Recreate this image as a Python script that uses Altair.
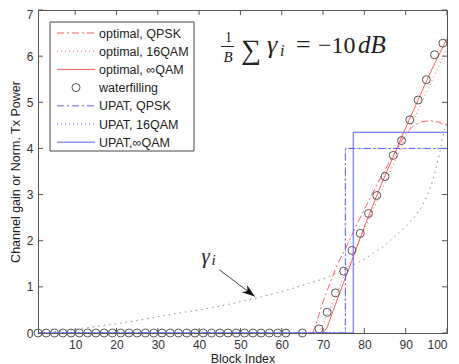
import altair as alt
import pandas as pd

# ---------------- data ----------------
x_ticks = [10, 20, 30, 40, 50, 60, 70, 80, 90, 100]
y_ticks = [0, 1, 2, 3, 4, 5, 6, 7]

wf_x = [1, 3, 5, 7, 9, 11, 13, 15, 17, 19, 21, 23, 25, 27, 29, 31, 33, 35, 37, 39,
        41, 43, 45, 47, 49, 51, 53, 55, 57, 59, 61, 65,
        69, 71, 73, 75, 77, 79, 81, 83, 85, 87, 89, 91, 93, 95, 97, 99]
wf_y = [0, 0, 0, 0, 0, 0, 0, 0, 0, 0, 0, 0, 0, 0, 0, 0, 0, 0, 0, 0,
        0, 0, 0, 0, 0, 0, 0, 0, 0, 0, 0, 0,
        0.09, 0.45, 0.87, 1.34, 1.79, 2.16, 2.59, 2.98, 3.39, 3.85, 4.17, 4.62, 5.05, 5.49, 6.03, 6.28]

gamma_x = [1, 5, 10, 15, 20, 25, 30, 35, 40, 45, 50, 55, 60, 65, 70, 75, 80, 85, 88, 90,
           92, 94, 95, 96, 97, 98, 99, 100]
gamma_y = [0.01, 0.03, 0.08, 0.14, 0.2, 0.27, 0.35, 0.43, 0.5, 0.58, 0.68, 0.78, 0.9, 1.03,
           1.17, 1.37, 1.6, 1.9, 2.15, 2.3, 2.5, 2.75, 2.95, 3.15, 3.45, 3.8, 4.25, 4.6]

opt_qpsk_x = [67.5, 68, 69, 70, 71, 72, 73, 74, 76, 78, 80, 82, 84, 86, 88, 90, 92, 94, 96, 98, 100]
opt_qpsk_y = [0, 0.12, 0.4, 0.68, 0.92, 1.15, 1.38, 1.58, 1.93, 2.32, 2.68, 3.03, 3.38, 3.7,
              4.0, 4.32, 4.5, 4.58, 4.6, 4.57, 4.5]

opt_16qam_x = [69, 70, 71, 72, 73, 74, 75, 76, 78, 80, 84, 88, 92, 96, 100]
opt_16qam_y = [0, 0.2, 0.4, 0.6, 0.8, 1.0, 1.22, 1.44, 1.85, 2.25, 3.05, 3.85, 4.63, 5.4, 6.15]

opt_inf_x = [70, 71, 72, 73, 74, 75, 76, 77, 78, 80, 82, 84, 86, 88, 90, 92, 94, 96, 98, 100]
opt_inf_y = [0, 0.12, 0.38, 0.62, 0.86, 1.1, 1.33, 1.57, 1.82, 2.3, 2.75, 3.2, 3.62, 4.03,
             4.45, 4.85, 5.25, 5.65, 6.02, 6.38]

upat_qpsk_x = [1, 75.4, 75.4, 100]
upat_qpsk_y = [0, 0, 4.0, 4.0]
upat_16qam_x = [1, 75.4, 75.4, 100]
upat_16qam_y = [0, 0, 4.0, 4.0]
upat_inf_x = [1, 77.3, 77.3, 100]
upat_inf_y = [0, 0, 4.35, 4.35]

legend_labels = ["optimal, QPSK", "optimal, 16QAM", "optimal, \u221eQAM", "waterfilling",
                 "UPAT, QPSK", "UPAT, 16QAM", "UPAT,\u221eQAM"]

# annotation (gamma_i label and arrow), data coordinates
gam_label_x, gam_label_y = 40.6, 1.52
arrow_x = [44.9, 53.5]
arrow_y = [1.37, 0.79]

# ---------------- styling ----------------
W, H = 409, 323
RED = "#ff5c5c"
BLUE = "#5c5cff"
GRAYDOT = "#8f8f8f"
CIRC = "#555555"
AXC = "#555555"
DASHDOT = [7, 3, 2, 3]
DOT = [1, 3]
SANS = "Liberation Sans"
SERIF = "Liberation Serif"

xsc = alt.Scale(domain=[1, 100], nice=False, zero=False)
ysc = alt.Scale(domain=[0, 7], nice=False)
xaxis = alt.Axis(values=x_ticks, ticks=False, tickSize=0, grid=False, domainColor=AXC,
                 labelFont=SANS, labelFontSize=12, labelColor="#333", labelPadding=6,
                 title="Block Index", titleFont=SANS, titleFontSize=12.5, titleFontWeight="normal",
                 titleColor="#222", titleY=29, titleBaseline="alphabetic")
yaxis = alt.Axis(values=y_ticks, ticks=False, tickSize=0, grid=False, domainColor=AXC,
                 labelFont=SANS, labelFontSize=12, labelColor="#333", labelPadding=5,
                 labelOffset=alt.condition("datum.value == 7", alt.value(4.5), alt.value(0)),
                 title="Channel gain or Norm. Tx Power", titleFont=SANS, titleFontSize=12.5,
                 titleFontWeight="normal", titleColor="#222", titleX=-23, titleY=H / 2,
                 titleAngle=-90, titleBaseline="middle", titleAlign="center")


def line_layer(xs, ys, color, dash=None, width=1.0):
    df = pd.DataFrame({"x": xs, "y": ys, "o": list(range(len(xs)))})
    kw = dict(color=color, strokeWidth=width, clip=True)
    if dash:
        kw["strokeDash"] = dash
    return alt.Chart(df).mark_line(**kw).encode(
        x=alt.X("x:Q", scale=xsc, axis=xaxis),
        y=alt.Y("y:Q", scale=ysc, axis=yaxis),
        order="o:Q",
    )


one = pd.DataFrame({"a": [0]})


def ptext(txt, px, py, size, font=SERIF, style="normal", align="left", color="#222"):
    return alt.Chart(one).mark_text(text=txt, font=font, fontSize=size, fontStyle=style,
                                    align=align, baseline="alphabetic", color=color).encode(
        x=alt.value(px), y=alt.value(py))


def prule(x1, x2, y1, y2, color, dash=None, width=1.0):
    kw = dict(color=color, strokeWidth=width)
    if dash:
        kw["strokeDash"] = dash
    return alt.Chart(one).mark_rule(**kw).encode(
        x=alt.value(x1), x2=alt.value(x2), y=alt.value(y1), y2=alt.value(y2))


layers = []
# inward ticks
xt = pd.DataFrame({"x": x_ticks})
yt = pd.DataFrame({"y": y_ticks})
tick_style = dict(color=AXC, strokeWidth=1)
layers.append(alt.Chart(xt).mark_rule(**tick_style).encode(
    x=alt.X("x:Q", scale=xsc, axis=xaxis), y=alt.value(H), y2=alt.value(H - 5)))
layers.append(alt.Chart(xt).mark_rule(**tick_style).encode(
    x=alt.X("x:Q", scale=xsc, axis=xaxis), y=alt.value(0), y2=alt.value(5)))
layers.append(alt.Chart(yt).mark_rule(**tick_style).encode(
    y=alt.Y("y:Q", scale=ysc, axis=yaxis), x=alt.value(0), x2=alt.value(5)))
layers.append(alt.Chart(yt).mark_rule(**tick_style).encode(
    y=alt.Y("y:Q", scale=ysc, axis=yaxis), x=alt.value(W), x2=alt.value(W - 5)))

# channel gain
layers.append(line_layer(gamma_x, gamma_y, GRAYDOT, [1.5, 4]))
# optimal
layers.append(line_layer(opt_16qam_x, opt_16qam_y, RED, DOT))
layers.append(line_layer(opt_qpsk_x, opt_qpsk_y, RED, DASHDOT))
layers.append(line_layer(opt_inf_x, opt_inf_y, RED))
# waterfilling circles
wf = pd.DataFrame({"x": wf_x, "y": wf_y})
layers.append(alt.Chart(wf).mark_point(shape="circle", size=64, color=CIRC, strokeWidth=1,
                                       filled=False, opacity=1).encode(
    x=alt.X("x:Q", scale=xsc, axis=xaxis), y=alt.Y("y:Q", scale=ysc, axis=yaxis)))
# UPAT
layers.append(line_layer(upat_16qam_x, upat_16qam_y, BLUE, DOT))
layers.append(line_layer(upat_qpsk_x, upat_qpsk_y, BLUE, DASHDOT))
layers.append(line_layer(upat_inf_x, upat_inf_y, BLUE))

# gamma_i annotation
ar = pd.DataFrame({"x": [arrow_x[0]], "y": [arrow_y[0]], "x2": [arrow_x[1]], "y2": [arrow_y[1]]})
layers.append(alt.Chart(ar).mark_rule(color="#444", strokeWidth=1).encode(
    x=alt.X("x:Q", scale=xsc, axis=xaxis), y=alt.Y("y:Q", scale=ysc, axis=yaxis),
    x2="x2:Q", y2="y2:Q"))
head = pd.DataFrame({"x": [arrow_x[1]], "y": [arrow_y[1]]})
layers.append(alt.Chart(head).mark_point(
    shape="M0,0 L-0.55,1.6 L0,1.15 L0.55,1.6 Z", size=264, angle=127, filled=True,
    color="#111", opacity=1, strokeWidth=0).encode(
    x=alt.X("x:Q", scale=xsc, axis=xaxis), y=alt.Y("y:Q", scale=ysc, axis=yaxis)))
gl = pd.DataFrame({"x": [gam_label_x], "y": [gam_label_y]})
layers.append(alt.Chart(gl).mark_text(text="\u03b3", font=SERIF, fontSize=21, fontStyle="italic",
                                      align="left", baseline="alphabetic", color="#223").encode(
    x=alt.X("x:Q", scale=xsc, axis=xaxis), y=alt.Y("y:Q", scale=ysc, axis=yaxis)))
layers.append(alt.Chart(gl).mark_text(text="i", font=SERIF, fontSize=15, fontStyle="italic",
                                      align="left", baseline="alphabetic", color="#223",
                                      dx=10, dy=2).encode(
    x=alt.X("x:Q", scale=xsc, axis=xaxis), y=alt.Y("y:Q", scale=ysc, axis=yaxis)))

# formula  (1/B) sum gamma_i = -10dB
layers.append(ptext("1", 190.5, 32, 14, align="center"))
layers.append(prule(183, 196, 36.5, 36.5, "#222"))
layers.append(ptext("B", 190, 52, 15, style="italic", align="center"))
layers.append(ptext("\u2211", 203, 49, 28))
layers.append(ptext("\u03b3", 229, 43, 26, style="italic"))
layers.append(ptext("i", 242, 46, 16, style="italic"))
layers.append(ptext("=", 258, 43, 26))
layers.append(ptext("\u221210", 280, 43, 24))
layers.append(ptext("dB", 320, 43, 25, style="italic"))

# manual legend
layers.append(alt.Chart(one).mark_rect(fill="white", stroke="#444", strokeWidth=1).encode(
    x=alt.value(12), x2=alt.value(156), y=alt.value(12), y2=alt.value(141)))
rows = [23, 41.2, 59.4, 77.6, 95.8, 114, 132.2]
styles = [(RED, DASHDOT), (RED, DOT), (RED, None), None, (BLUE, DASHDOT), (BLUE, DOT), (BLUE, None)]
for lab, ry, st in zip(legend_labels, rows, styles):
    if st is None:
        layers.append(alt.Chart(one).mark_point(shape="circle", size=64, color=CIRC, filled=False,
                                                strokeWidth=1, opacity=1).encode(
            x=alt.value(38), y=alt.value(ry)))
    else:
        layers.append(prule(19, 57, ry, ry, st[0], st[1]))
    layers.append(alt.Chart(one).mark_text(text=lab, font=SANS, fontSize=12.5, align="left",
                                           baseline="middle", color="#222").encode(
        x=alt.value(61), y=alt.value(ry + 0.5)))

chart = alt.layer(*layers).properties(
    width=W, height=H,
    autosize=alt.AutoSizeParams(type="none"),
    padding={"left": 30, "top": 2, "right": 4, "bottom": 31},
    background="white",
).configure_view(stroke=AXC, strokeWidth=1)

chart.save("out.html", embed_options={"renderer": "svg", "actions": False})
